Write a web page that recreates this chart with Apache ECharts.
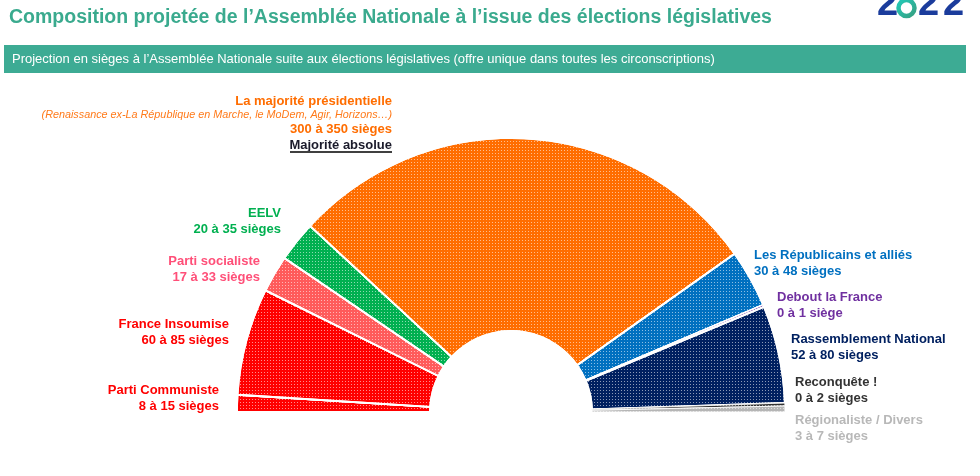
<!DOCTYPE html>
<html>
<head>
<meta charset="utf-8">
<script src="https://cdn.jsdelivr.net/npm/echarts@6/dist/echarts.min.js"></script>
<style>
html,body{margin:0;padding:0;background:#fff;}
#c{width:980px;height:476px;}
</style>
</head>
<body>
<div id="c"></div>
<script>
// ---- data ----
var parties = ['Parti Communiste','France Insoumise','Parti socialiste','EELV','La majorité présidentielle','Les Républicains et alliés','Debout la France','Rassemblement National','Reconquête !','Régionaliste / Divers'];
var ranges = ['8 à 15 sièges','60 à 85 sièges','17 à 33 sièges','20 à 35 sièges','300 à 350 sièges','30 à 48 sièges','0 à 1 siège','52 à 80 sièges','0 à 2 sièges','3 à 7 sièges'];
var seats = [11.5, 72.5, 25, 27.5, 325, 39, 1.5, 66, 2, 4];
var titleText = 'Composition projetée de l\u2019Assemblée Nationale à l\u2019issue des élections législatives';
var bannerText = 'Projection en sièges à l\u2019Assemblée Nationale suite aux élections législatives (offre unique dans toutes les circonscriptions)';
var majoritySub = '(Renaissance ex-La République en Marche, le MoDem, Agir, Horizons\u2026)';
var majorityNote = 'Majorité absolue';
var logoDigits = ['2', '2', '2'];

// ---- styles ----
var sliceColors = ['#ff0000','#ff0000','#ff5b5b','#00b050','#ff6d00','#0070c0','#7030a0','#002060','#333333','#b5b5b5'];
var textColors = ['#ff0000','#ff0000','#ff4f78','#00b050','#ff6d00','#0070c0','#7030a0','#002060','#333333','#b8b8b8'];
var borderWidths = [1.8,1.8,1.8,1.8,1.8,1.8,1.2,1.8,0.6,0.6];
var labelPos = [
  [219,382,'right'],[229,316,'right'],[260,253,'right'],[281,205,'right'],[392,94,'right'],
  [754,247,'left'],[777,289,'left'],[791,331,'left'],[795,374,'left'],[795,412,'left']
];
var FONT = '"Liberation Sans", Arial, sans-serif';

var chart = echarts.init(document.getElementById('c'));

var dataItems = parties.map(function(p, i){
  var rich = {
    n: {fontFamily: FONT, fontWeight: 'bold', fontSize: 13, color: textColors[i], lineHeight: 16, align: labelPos[i][2]},
    r: {fontFamily: FONT, fontWeight: 'bold', fontSize: 13, color: textColors[i], lineHeight: 16, align: labelPos[i][2]}
  };
  var fmt = '{n|' + p + '}\n{r|' + ranges[i] + '}';
  if (i === 4) {
    rich.n.lineHeight = 15;
    rich.s = {fontFamily: FONT, fontStyle: 'italic', fontSize: 10.8, color: '#ff7a1a', lineHeight: 12, align: 'right'};
    rich.m = {fontFamily: FONT, fontWeight: 'bold', fontSize: 13, color: '#1a1a2a', lineHeight: 16, align: 'right'};
    fmt = '{n|' + p + '}\n{s|' + majoritySub + '}\n{r|' + ranges[i] + '}\n{m|' + majorityNote + '}';
  }
  return {
    name: p,
    value: seats[i],
    itemStyle: {
      color: sliceColors[i],
      borderWidth: borderWidths[i],
      decal: {symbol: 'rect', symbolSize: 1, dashArrayX: [1, 2], dashArrayY: [1, 2], color: 'rgba(255,255,255,0.55)'}
    },
    label: {formatter: fmt, rich: rich}
  };
});

var logoFont = 'bold 38px ' + FONT;

chart.setOption({
  animation: false,
  title: {
    text: titleText, left: 4, top: 3,
    textStyle: {fontFamily: FONT, fontWeight: 'bold', fontSize: 19.5, color: '#3aaa8e'}
  },
  graphic: [
    {type: 'rect', shape: {x: 4, y: 45, width: 962, height: 28}, style: {fill: '#3dab94'}, z: 1},
    {type: 'text', x: 12, y: 59, style: {text: bannerText, fill: '#ffffff', font: '13px ' + FONT, textVerticalAlign: 'middle'}, z: 2},
    {type: 'line', shape: {x1: 290, y1: 152, x2: 392, y2: 152}, style: {stroke: '#404040', lineWidth: 2}, z: 5},
    {type: 'text', x: 877, y: -14, style: {text: logoDigits[0], fill: '#1b3c9c', font: logoFont}},
    {type: 'circle', shape: {cx: 906.5, cy: 8, r: 8}, style: {fill: 'none', lineWidth: 4.5,
      stroke: new echarts.graphic.LinearGradient(0, 0, 1, 1, [{offset: 0, color: '#1fd0c0'}, {offset: 1, color: '#3a9a7a'}])}},
    {type: 'text', x: 918, y: -14, style: {text: logoDigits[1], fill: '#1b3c9c', font: logoFont}},
    {type: 'text', x: 943, y: -14, style: {text: logoDigits[2], fill: '#1b3c9c', font: logoFont}}
  ],
  series: [{
    type: 'pie',
    center: [511, 412],
    radius: [81, 274],
    startAngle: 180,
    endAngle: 0,
    clockwise: true,
    avoidLabelOverlap: false,
    itemStyle: {borderColor: '#ffffff', borderWidth: 1.8},
    label: {show: true, position: 'outside'},
    labelLine: {show: false},
    emphasis: {disabled: true},
    labelLayout: function(params){
      var p = labelPos[params.dataIndex];
      return {x: p[0], y: p[1], align: p[2], verticalAlign: 'top', hideOverlap: false};
    },
    data: dataItems
  }]
});
</script>
</body>
</html>
